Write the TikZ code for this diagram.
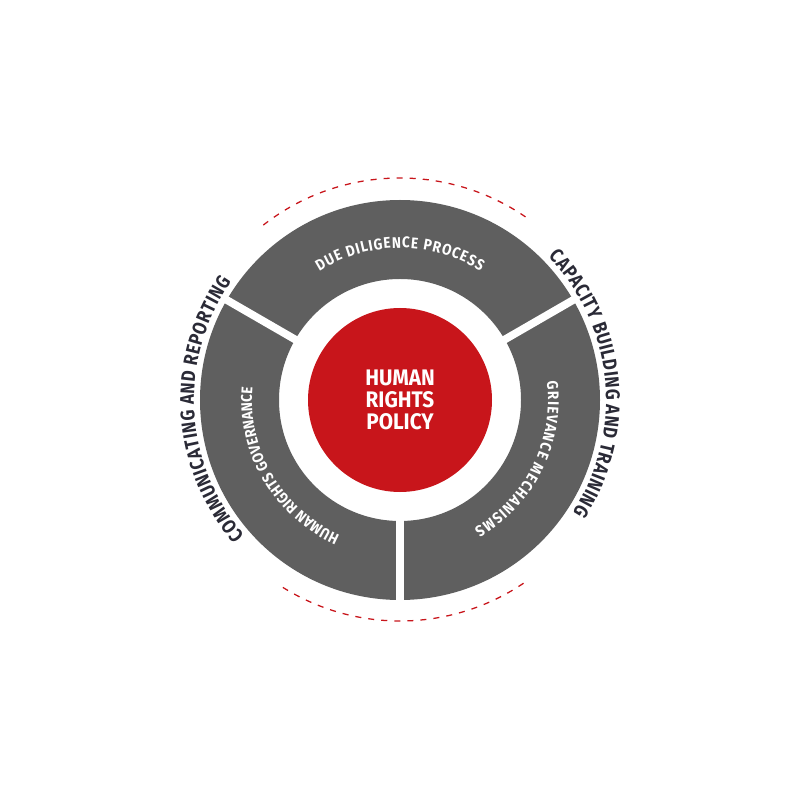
\documentclass[tikz,border=0pt]{standalone}
\usepackage{fontspec}
\setmainfont{Fira Sans}
\newfontfamily\dinfont[FakeStretch=0.88]{Fira Sans}
\newfontfamily\dinouter[FakeStretch=0.85]{Fira Sans}
\newfontfamily\dinwide[FakeStretch=0.92]{Fira Sans}
\usepackage{tikz}
\usetikzlibrary{decorations.text}
\definecolor{policyred}{HTML}{C8151B}
\definecolor{ringgrey}{HTML}{5F5F5F}
\definecolor{labelink}{HTML}{2A2A36}

\begin{document}
\begin{tikzpicture}[x=0.025cm,y=0.025cm]
\tikzstyle{ring}=[fill=ringgrey, even odd rule]
\tikzstyle{cut}=[draw=white, line width=5.5pt]
\tikzstyle{trace}=[draw=policyred, line width=0.9pt, dash pattern=on 4.3pt off 5pt]
\tikzstyle{arctext}=[decorate, decoration={text along path, text align={fit to path}}]
\useasboundingbox (-400,-400) rectangle (400,400);
\fill[ring] (0,0) circle (200) (0,0) circle (121);
\foreach \a in {30,150,270}
  \draw[cut] (\a:115) -- (\a:205);
\fill[policyred] (0,0) circle (92);
\node[text=white, align=center, font=\dinwide\bfseries\fontsize{16}{15.6}\selectfont] (policy) at (0,0) {HUMAN\\RIGHTS\\POLICY};
% dashed red arcs
\draw[trace] (128:222) arc[start angle=128, end angle=54.6, radius=222];
\draw[trace] (238:221) arc[start angle=238, end angle=304.6, radius=221];
% ring labels
\path[arctext, decoration={text={|\dinfont\bfseries\fontsize{11}{12}\selectfont\color{white}|DUE DILIGENCE PROCESS}}]
  (122:152) arc[start angle=122, end angle=58, radius=152];
\path[arctext, decoration={text={|\dinfont\bfseries\fontsize{11}{12}\selectfont\color{white}|GRIEVANCE MECHANISMS}}]
  (7:148) arc[start angle=7, end angle=-60, radius=148];
\path[arctext, decoration={text={|\dinfont\bfseries\fontsize{11}{12}\selectfont\color{white}|HUMAN RIGHTS GOVERNANCE}}]
  (246:148) arc[start angle=246, end angle=175, radius=148];
% outer labels
\path[arctext, decoration={text={|\dinouter\bfseries\fontsize{14}{15}\selectfont\color{labelink}|COMMUNICATING AND REPORTING}}]
  (221:206) arc[start angle=221, end angle=145, radius=206];
\path[arctext, decoration={text={|\dinouter\bfseries\fontsize{14}{15}\selectfont\color{labelink}|CAPACITY BUILDING AND TRAINING}}]
  (44:206) arc[start angle=44, end angle=-33, radius=206];
\end{tikzpicture}
\end{document}
